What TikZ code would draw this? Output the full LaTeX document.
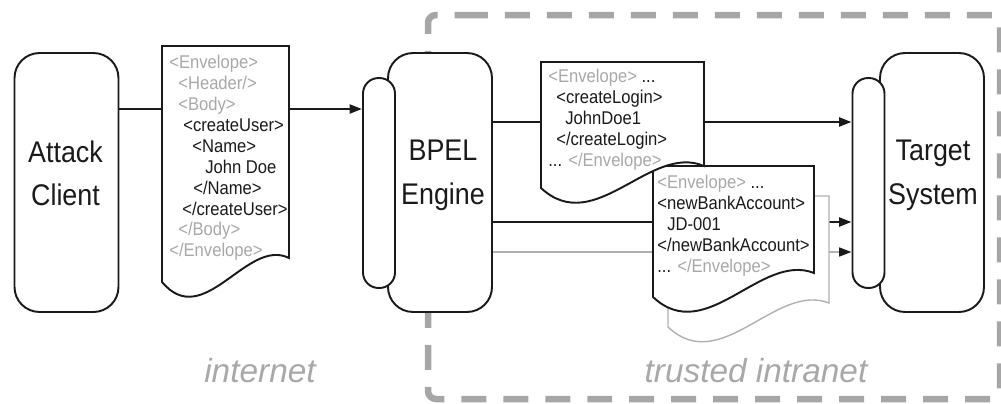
\documentclass[tikz,border=0pt]{standalone}
\usepackage{fontspec}
\setmainfont{Liberation Sans}
\newfontfamily\nsf[FakeStretch=0.9]{Liberation Sans}
\usetikzlibrary{arrows.meta,backgrounds}
\definecolor{bound}{HTML}{A6A6A6}
\definecolor{gtext}{HTML}{A8A8A8}
\definecolor{ink}{HTML}{1A1A1A}
\definecolor{gline}{HTML}{B0B0B0}
\begin{document}
\begin{tikzpicture}[x=0.02cm,y=-0.02cm,
 box/.style={draw=ink,line width=1.1pt,fill=white,rounded corners=0.5cm,minimum width=2.08cm,minimum height=5.18cm,inner sep=0pt},
 port/.style={draw=ink,line width=1.1pt,fill=white,rounded corners=0.31cm,minimum width=0.64cm,minimum height=4.2cm,inner sep=0pt},
 boxtext/.style={font=\nsf\fontsize{17}{25}\selectfont,align=center,text=ink,anchor=north,inner sep=0pt},
 doctext/.style={font=\nsf\fontsize{10.5}{11.9}\selectfont,align=left,anchor=north west,inner sep=0pt,text=ink},
 docshape/.style={draw=ink,line width=1.1pt,fill=white},
 docback/.style={draw=gline,line width=0.8pt,fill=white},
 flow/.style={draw=ink,line width=1.4pt,-{Triangle[length=7pt,width=5pt]}},
 grayflow/.style={draw=gline,line width=1.1pt,-{Triangle[length=7pt,width=5pt,color=ink]}},
 boundary/.style={draw=bound,line width=3.7pt,dash pattern=on 0.5cm off 0.34cm,rounded corners=0.16cm},
 zone/.style={font=\itshape\fontsize{19}{22}\selectfont,text=gtext,anchor=base,inner sep=0pt}]
\useasboundingbox (0,0) rectangle (1001,403);

% components
\node[box] (ac) at (66.5,182.5) {};
\node[boxtext] (actext) at (65.5,140) {Attack\\Client};
\node[box] (bpel) at (440,182.5) {};
\node[port] (bpelport) at (379,183) {};
\node[boxtext] (bpeltext) at (443,140) {BPEL\\Engine};
\node[box] (ts) at (932,182.5) {};
\node[port] (tsport) at (868.5,183) {};
\node[boxtext] (tstext) at (933,140) {Target\\System};

% trust boundary
\begin{scope}[on background layer]
\draw[boundary] (455,15) -- (1000,15) -- (1000,399) -- (428,399) -- (428,15) -- cycle;
\end{scope}

% message flows
\coordinate (r1) at (0,109);
\coordinate (r2) at (0,122);
\coordinate (r3) at (0,222);
\coordinate (r4) at (0,252);
\draw[flow] (ac.east |- r1) -- (bpelport.west |- r1);
\draw[flow] (bpel.east |- r2) -- (tsport.west |- r2);
\draw[flow] (bpel.east |- r3) -- (tsport.west |- r3);
\draw[grayflow] (bpel.east |- r4) -- (tsport.west |- r4);

% documents
\draw[docback] (668,327) -- (668,196) -- (829,196) -- (829,303) .. controls (775.9,282) and (721.1,377) .. (668,327) -- cycle;
\draw[docshape] (653,297) -- (653,166) -- (814,166) -- (814,273) .. controls (760.9,252) and (706.1,347) .. (653,297) -- cycle;
\draw[docshape] (541,188) -- (541,62) -- (704,62) -- (704,166) .. controls (650.2,143) and (594.8,238) .. (541,188) -- cycle;
\draw[docshape] (162,282) -- (162,46) -- (289,46) -- (289,258) .. controls (247.1,237) and (203.9,332) .. (162,282) -- cycle;

\node[doctext] (msg1) at (169,55) {%
\textcolor{gtext}{<Envelope>}\\
\hspace*{0.18cm}\textcolor{gtext}{<Header/>}\\
\hspace*{0.18cm}\textcolor{gtext}{<Body>}\\
\hspace*{0.28cm}<createUser>\\
\hspace*{0.46cm}<Name>\\
\hspace*{0.72cm}John Doe\\
\hspace*{0.48cm}</Name>\\
\hspace*{0.26cm}</createUser>\\
\hspace*{0.18cm}\textcolor{gtext}{</Body>}\\
\textcolor{gtext}{</Envelope>}};

\node[doctext] (msg2) at (548,69) {%
\textcolor{gtext}{<Envelope>} ...\\
\hspace*{0.16cm}<createLogin>\\
\hspace*{0.34cm}JohnDoe1\\
\hspace*{0.16cm}</createLogin>\\
... \textcolor{gtext}{</Envelope>}};

\node[doctext] (msg3) at (657,175) {%
\textcolor{gtext}{<Envelope>} ...\\
<newBankAccount>\\
\hspace*{0.2cm}JD-001\\
</newBankAccount>\\
... \textcolor{gtext}{</Envelope>}};

% zones
\node[zone] (inet) at (260,382) {internet};
\node[zone] (intra) at (756,382) {trusted intranet};
\end{tikzpicture}
\end{document}
